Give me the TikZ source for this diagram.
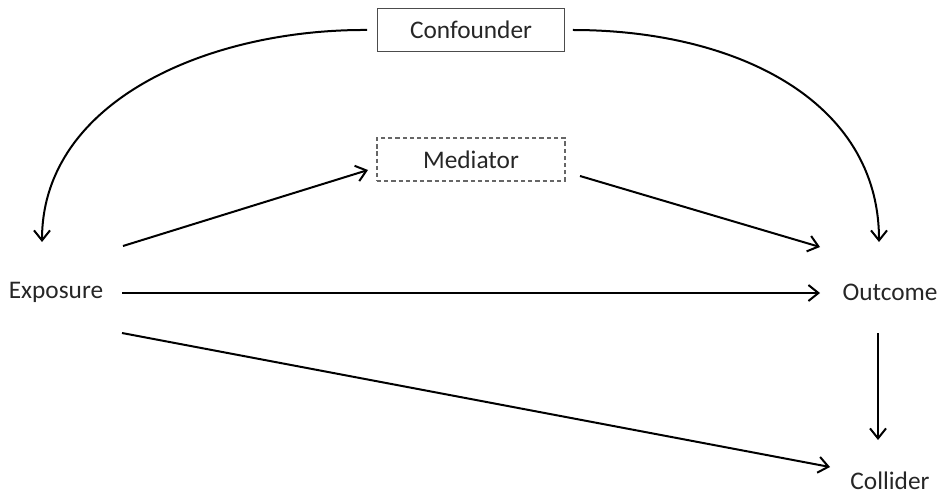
\documentclass[tikz,border=0pt]{standalone}
\usepackage{fontspec}
\setmainfont{Carlito}
\usetikzlibrary{arrows.meta}
\begin{document}
\begin{tikzpicture}[x=0.75pt,y=-0.75pt,
  every node/.style={font=\fontsize{19pt}{22pt}\selectfont, text=black!85, inner sep=0pt},
  box/.style={draw=black!70, line width=0.75pt, minimum width=140pt, minimum height=32pt},
  dbox/.style={draw=black!60, line width=1.1pt, dash pattern=on 3.2pt off 2.2pt, minimum width=141pt, minimum height=32pt},
  arr/.style={line width=1.5pt, -{Straight Barb[length=7.5pt,width=12pt,line width=1.5pt]}}]
\useasboundingbox (0,0) rectangle (941,495);
\node[box] (conf) at (471,30) {Confounder};
\node[dbox] (med) at (471,159.5) {Mediator};
\node (expo) at (56,292) {Exposure};
\node (out) at (890,292) {Outcome};
\node (coll) at (890,481) {Collider};
\draw[arr] ([xshift=-7.5pt]conf.west) .. controls (210,29) and (42,100) .. ([shift={(-14,-50)}]expo.center);
\draw[arr] ([xshift=6pt]conf.east) .. controls (735,30) and (879,100) .. ([shift={(-11,-50)}]out.center);
\draw[arr] ([shift={(67,-46)}]expo.center) -- ([shift={(-103,10.5)}]med.center);
\draw[arr] ([shift={(109,16.5)}]med.center) -- ([shift={(-70,-45)}]out.center);
\draw[arr] ([shift={(66,1)}]expo.center) -- ([shift={(-70,1)}]out.center);
\draw[arr] ([shift={(66,41)}]expo.center) -- ([shift={(-60,-14)}]coll.center);
\draw[arr] ([shift={(-12,41)}]out.center) -- ([shift={(-12,-41)}]coll.center);
\end{tikzpicture}
\end{document}
